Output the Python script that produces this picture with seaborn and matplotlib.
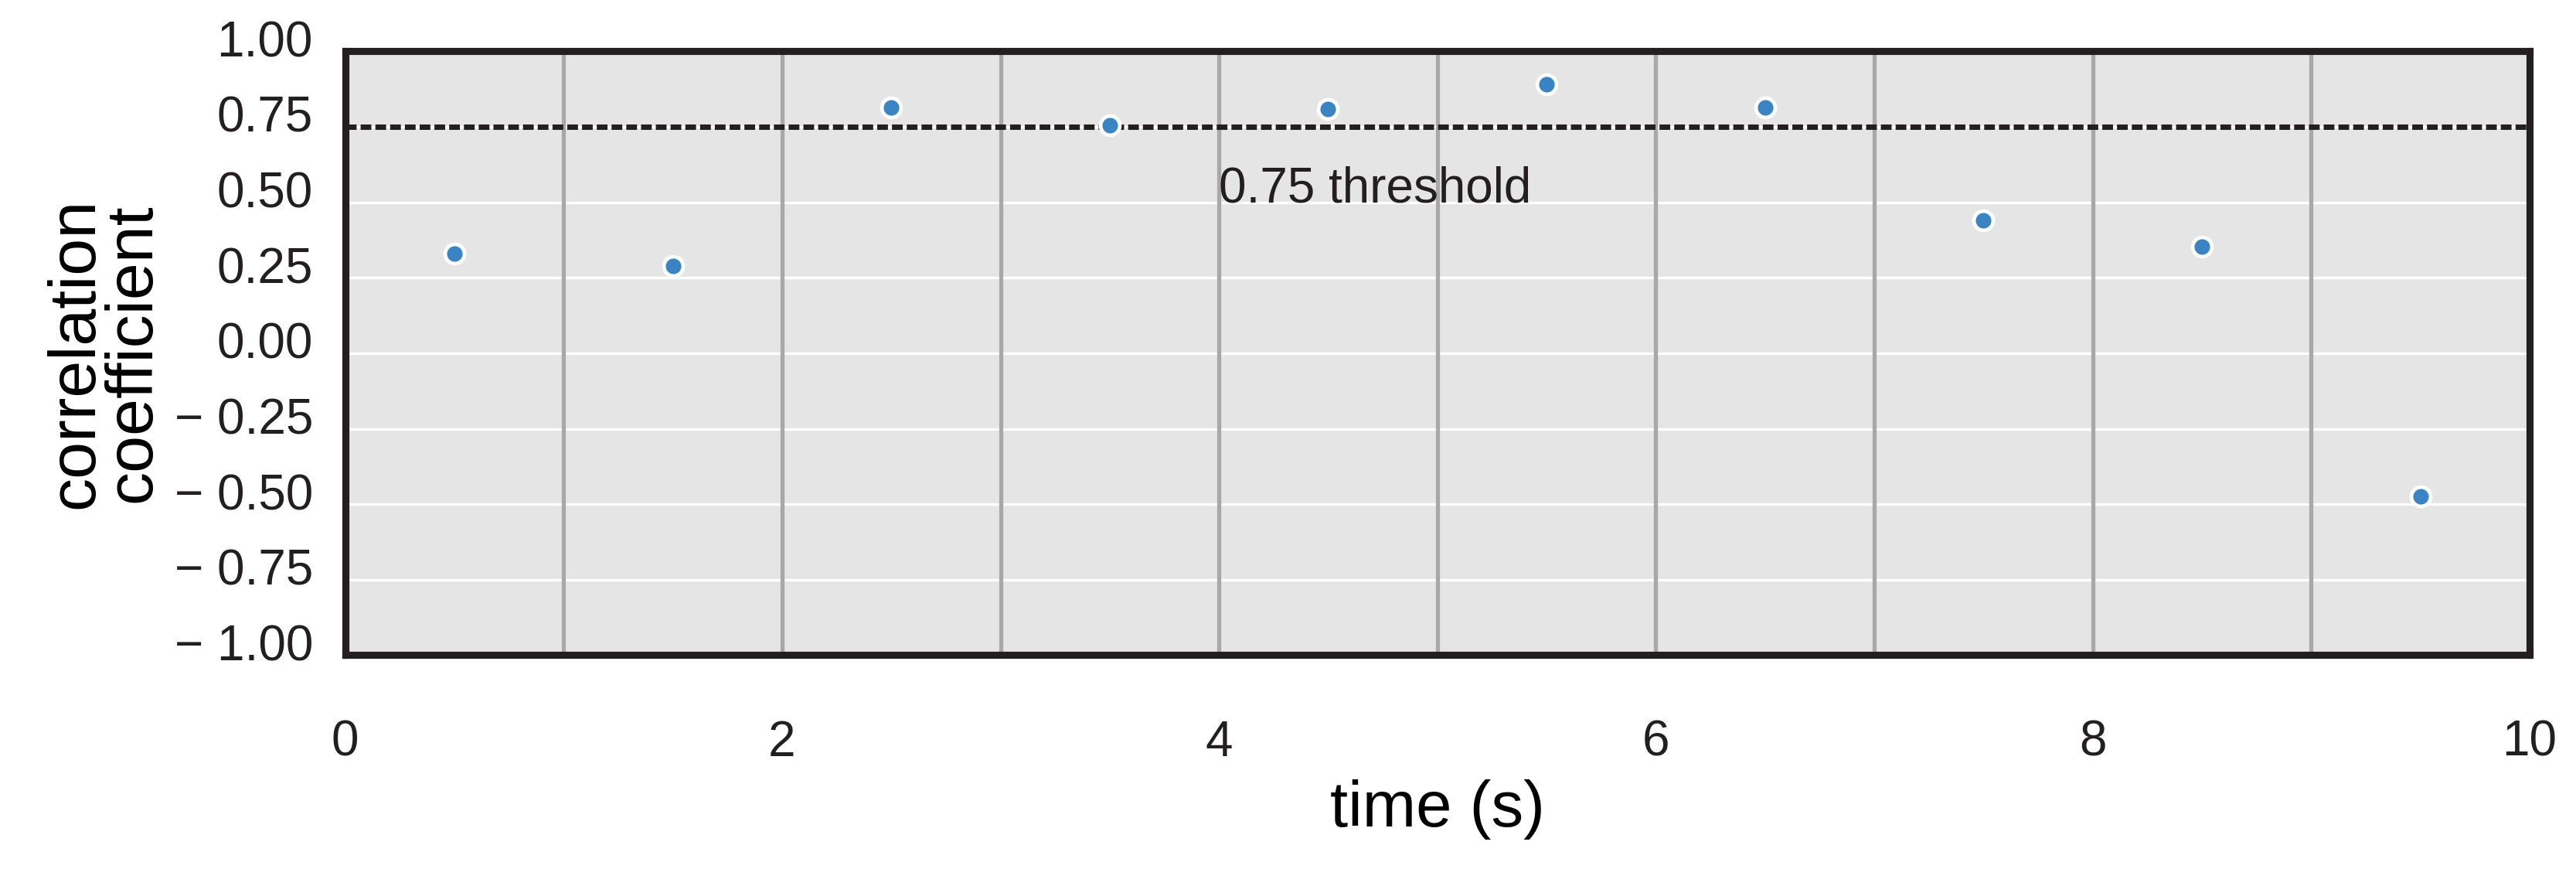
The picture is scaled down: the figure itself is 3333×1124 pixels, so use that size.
import matplotlib
matplotlib.use("Agg")
import matplotlib.pyplot as plt
import matplotlib.transforms as mtransforms
import seaborn as sns
import pandas as pd

# data
time_s = [0.5, 1.5, 2.5, 3.5, 4.5, 5.5, 6.5, 7.5, 8.5, 9.5]
corr = [0.33, 0.29, 0.815, 0.755, 0.81, 0.89, 0.815, 0.44, 0.353, -0.473]
threshold = 0.75
y_ticks = [-1.0, -0.75, -0.5, -0.25, 0.0, 0.25, 0.5, 0.75, 1.0]
x_ticks = [0, 2, 4, 6, 8, 10]
x_grid = [1, 2, 3, 4, 5, 6, 7, 8, 9]

df = pd.DataFrame({"time": time_s, "corr": corr})

sns.set_theme(style="white")
plt.rcParams["font.family"] = ["Liberation Sans", "DejaVu Sans"]
plt.rcParams["axes.unicode_minus"] = True

fig = plt.figure(figsize=(16.665, 5.62), dpi=200)
ax = fig.add_axes([0.134, 0.246, 0.848, 0.695])
ax.set_facecolor("#e5e5e5")

# grid lines
for yv in y_ticks:
    ax.axhline(yv, color="white", lw=1.2, zorder=1)
for xv in x_grid:
    ax.axvline(xv, color="#a8a8ab", lw=1.9, zorder=1.5)

ax.axhline(threshold, color="#231f20", lw=2.5, ls=(0, (2.0, 0.75)), zorder=2)
ax.text(4.0, 0.545, "0.75 threshold", fontsize=23, color="#231f20",
        ha="left", va="center", zorder=3)

sns.scatterplot(data=df, x="time", y="corr", ax=ax, color="#3b84c4",
                s=80, edgecolor="white", linewidth=1.7, zorder=4)

ax.set_xlim(0, 10)
ax.set_ylim(-1, 1)
ax.set_xticks(x_ticks)
ax.set_yticks(y_ticks)
ax.set_xticklabels([str(v) for v in x_ticks])
ax.set_yticklabels([("\u2212 " + f"{abs(v):.2f}") if v < 0 else f"{v:.2f}"
                    for v in y_ticks])
ax.tick_params(axis="both", which="both", direction="out", length=5, width=1.3,
               color="#808080", labelsize=23, labelcolor="#231f20")
ax.tick_params(axis="x", pad=25)
ax.tick_params(axis="y", pad=10)

offset = mtransforms.ScaledTranslation(0, 6 / 72, fig.dpi_scale_trans)
for lab in ax.get_yticklabels():
    lab.set_transform(lab.get_transform() + offset)

for sp in ax.spines.values():
    sp.set_visible(True)
    sp.set_color("#231f20")
    sp.set_linewidth(3.3)

ax.set_xlabel("time (s)", fontsize=30, color="black")
ax.xaxis.set_label_coords(0.5, -0.205)
ax.set_ylabel("correlation\ncoefficient", fontsize=31, color="black",
              linespacing=0.9)
ax.yaxis.set_label_coords(-0.11, 0.5)
ax.yaxis.label.set_va("center")

fig.savefig("out.png", dpi=200)
